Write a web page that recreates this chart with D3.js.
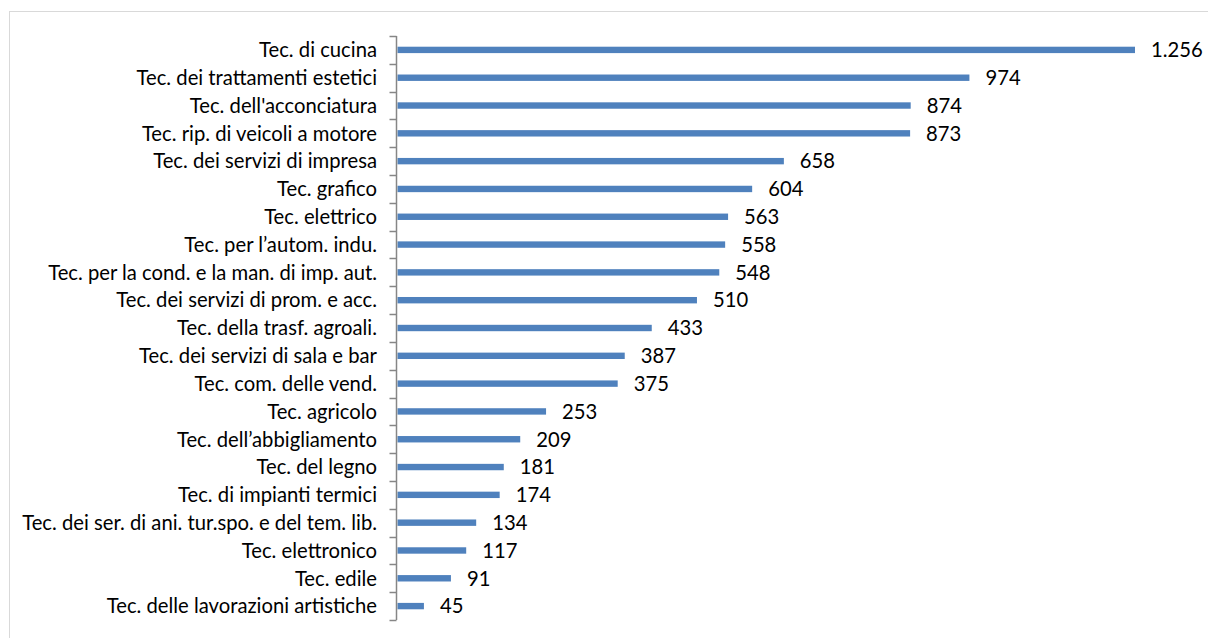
<!DOCTYPE html>
<html>
<head>
<meta charset="utf-8">
<script src="https://cdn.jsdelivr.net/npm/d3@7"></script>
<style>
  html, body { margin: 0; padding: 0; background: #fff; }
  svg { display: block; }
  text { font-family: Lato, "Open Sans", sans-serif; fill: #000; }
</style>
</head>
<body>
<svg id="chart" width="1208" height="638"></svg>
<script>
const categories = [
  "Tec. di cucina",
  "Tec. dei trattamenti estetici",
  "Tec. dell'acconciatura",
  "Tec. rip. di veicoli a motore",
  "Tec. dei servizi di impresa",
  "Tec. grafico",
  "Tec. elettrico",
  "Tec. per l\u2019autom. indu.",
  "Tec. per la cond. e la man. di imp. aut.",
  "Tec. dei servizi di prom. e acc.",
  "Tec. della trasf. agroali.",
  "Tec. dei servizi di sala e bar",
  "Tec. com. delle vend.",
  "Tec. agricolo",
  "Tec. dell\u2019abbigliamento",
  "Tec. del legno",
  "Tec. di impianti termici",
  "Tec. dei ser. di ani. tur.spo. e del tem. lib.",
  "Tec. elettronico",
  "Tec. edile",
  "Tec. delle lavorazioni artistiche"
];
const values = [1256, 974, 874, 873, 658, 604, 563, 558, 548, 510, 433, 387, 375, 253, 209, 181, 174, 134, 117, 91, 45];

const svg = d3.select("#chart");
const axisX = 396.5;
const plotTop = 36, plotBottom = 620;

const it = d3.formatLocale({decimal: ",", thousands: ".", grouping: [3], currency: ["€", ""]});
const fmt = it.format(",d");

// border
svg.append("rect")
  .attr("x", 9.5).attr("y", 11.5)
  .attr("width", 1400).attr("height", 800)
  .attr("fill", "none").attr("stroke", "#d9d9d9").attr("stroke-width", 1);

const x = d3.scaleLinear().domain([0, 1256]).range([axisX + 1, 1135]);
const y = d3.scaleBand().domain(categories).range([plotTop, plotBottom]).paddingInner(0.77).paddingOuter(0.385);

// font size so the longest label spans ~355px
const probe = svg.append("text").attr("font-size", 20).text("Tec. dei ser. di ani. tur.spo. e del tem. lib.");
const w20 = probe.node().getComputedTextLength();
probe.remove();
const fs = 20 * 355 / w20;

// bars
svg.append("g").selectAll("rect")
  .data(values)
  .join("rect")
  .attr("x", x(0))
  .attr("y", (d, i) => y(categories[i]))
  .attr("width", d => x(d) - x(0))
  .attr("height", y.bandwidth())
  .attr("fill", "#4F81BD");

// value labels
svg.append("g").selectAll("text")
  .data(values)
  .join("text")
  .attr("x", d => x(d) + 16)
  .attr("y", (d, i) => y(categories[i]) + y.bandwidth() / 2)
  .attr("dy", "0.36em")
  .attr("font-size", fs)
  .text(d => fmt(d));

// axis with category boundary ticks
const axisG = svg.append("g");
axisG.append("line")
  .attr("x1", axisX).attr("x2", axisX)
  .attr("y1", plotTop).attr("y2", plotBottom)
  .attr("stroke", "#868686").attr("stroke-width", 1.5);
const bounds = d3.range(categories.length + 1).map(i => plotTop + i * (plotBottom - plotTop) / categories.length);
axisG.selectAll("line.tick")
  .data(bounds)
  .join("line")
  .attr("class", "tick")
  .attr("x1", axisX - 7).attr("x2", axisX)
  .attr("y1", d => Math.round(d) + 0.5).attr("y2", d => Math.round(d) + 0.5)
  .attr("stroke", "#868686").attr("stroke-width", 1.5);

// category labels
svg.append("g").selectAll("text")
  .data(categories)
  .join("text")
  .attr("x", 377)
  .attr("y", d => y(d) + y.bandwidth() / 2)
  .attr("dy", "0.36em")
  .attr("text-anchor", "end")
  .attr("font-size", fs)
  .text(d => d);
</script>
</body>
</html>
